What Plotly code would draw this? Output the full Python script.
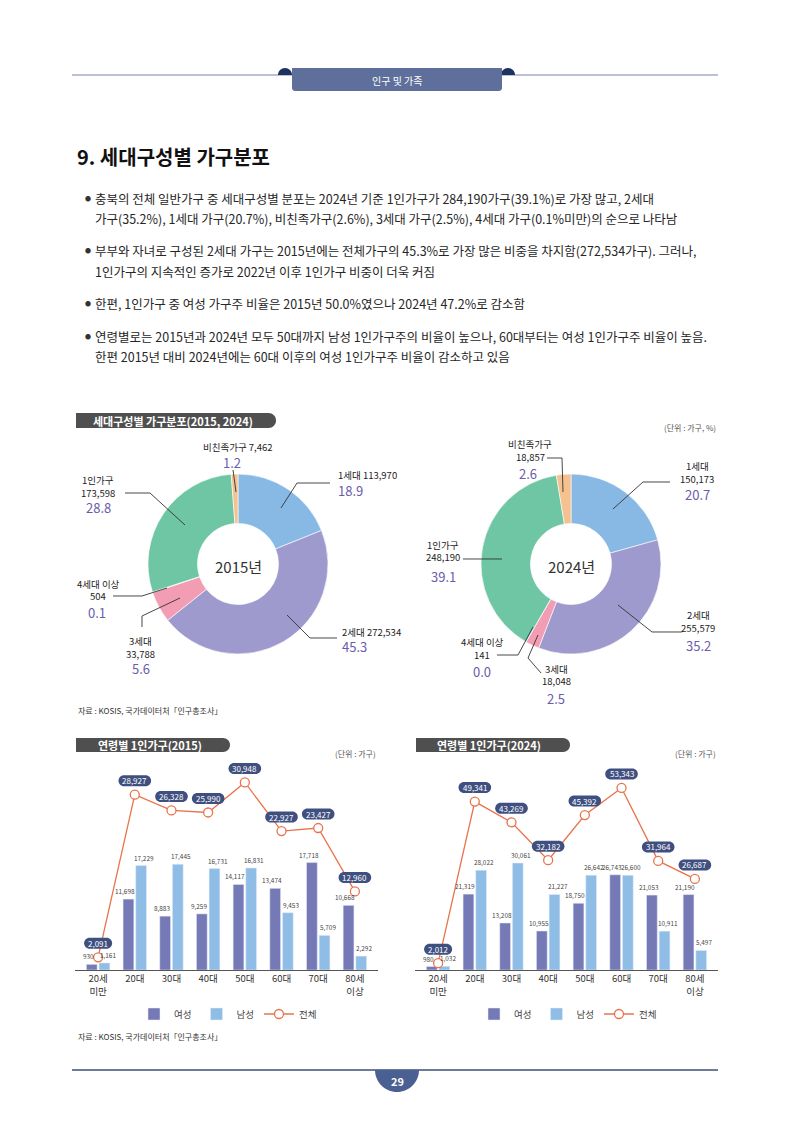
import plotly.graph_objects as go

W, H = 794, 1123
OFF = 8                      # the page body adds an 8px margin
FW, FH = W - OFF, H - OFF
FONT = "Noto Sans CJK KR"

# ---- data ----
pie_names = ["1세대", "2세대", "3세대", "4세대 이상", "1인가구", "비친족가구"]
pie_colors = ["#88b8e4", "#9f9acd", "#f29db4", "#f4c2cc", "#6fc6a4", "#f5c18f"]
counts_2015 = [113970, 272534, 33788, 504, 173598, 7462]
pcts_2015 = [18.9, 45.3, 5.6, 0.1, 28.8, 1.2]
counts_2024 = [150173, 255579, 18048, 141, 248190, 18857]
pcts_2024 = [20.7, 35.2, 2.5, 0.0, 39.1, 2.6]

ages = ["20세<br>미만", "20대", "30대", "40대", "50대", "60대", "70대", "80세<br>이상"]
female_2015 = [930, 11698, 8883, 9259, 14117, 13474, 17718, 10668]
male_2015 = [1161, 17229, 17445, 16731, 16831, 9453, 5709, 2292]
total_2015 = [2091, 28927, 26328, 25990, 30948, 22927, 23427, 12960]
female_2024 = [980, 21319, 13208, 10955, 18750, 26743, 21053, 21190]
male_2024 = [1032, 28022, 30061, 21227, 26642, 26600, 10911, 5497]
total_2024 = [2012, 49341, 43269, 32182, 45392, 53343, 31964, 26687]

bullets = [
    ["충북의 전체 일반가구 중 세대구성별 분포는 2024년 기준 1인가구가 284,190가구(39.1%)로 가장 많고, 2세대",
     "가구(35.2%), 1세대 가구(20.7%), 비친족가구(2.6%), 3세대 가구(2.5%), 4세대 가구(0.1%미만)의 순으로 나타남"],
    ["부부와 자녀로 구성된 2세대 가구는 2015년에는 전체가구의 45.3%로 가장 많은 비중을 차지함(272,534가구). 그러나,",
     "1인가구의 지속적인 증가로 2022년 이후 1인가구 비중이 더욱 커짐"],
    ["한편, 1인가구 중 여성 가구주 비율은 2015년 50.0%였으나 2024년 47.2%로 감소함"],
    ["연령별로는 2015년과 2024년 모두 50대까지 남성 1인가구주의 비율이 높으나, 60대부터는 여성 1인가구주 비율이 높음.",
     "한편 2015년 대비 2024년에는 60대 이후의 여성 1인가구주 비율이 감소하고 있음"],
]
bullet_y = [[198, 219], [250, 271], [303], [336, 357]]

FEMALE, MALE, LINE, PILL = "#7579b6", "#8fbde6", "#e9734c", "#3f5080"
PURPLE = "#6a5cab"


def X(x):
    return (x - OFF) / FW


def Y(y):
    return 1 - (y - OFF) / FH


def P(x, y):
    return f"{X(x):.5f},{Y(y):.5f}"


def round_rect(x0, y0, x1, y1, radii, conv=P):
    # radii: top-left, top-right, bottom-right, bottom-left (pixel, y down)
    tl, tr, br, bl = radii
    k = 0.5523
    return (f"M{conv(x0 + tl, y0)} L{conv(x1 - tr, y0)} "
            f"C{conv(x1 - tr + k * tr, y0)} {conv(x1, y0 + tr - k * tr)} {conv(x1, y0 + tr)} "
            f"L{conv(x1, y1 - br)} "
            f"C{conv(x1, y1 - br + k * br)} {conv(x1 - br + k * br, y1)} {conv(x1 - br, y1)} "
            f"L{conv(x0 + bl, y1)} "
            f"C{conv(x0 + bl - k * bl, y1)} {conv(x0, y1 - bl + k * bl)} {conv(x0, y1 - bl)} "
            f"L{conv(x0, y0 + tl)} "
            f"C{conv(x0, y0 + tl - k * tl)} {conv(x0 + tl - k * tl, y0)} {conv(x0 + tl, y0)} Z")


def half_circle(cx, cy, r, up=True):
    k = 0.5523
    s = -1 if up else 1
    return (f"M{P(cx - r, cy)} C{P(cx - r, cy + s * k * r)} {P(cx - k * r, cy + s * r)} {P(cx, cy + s * r)} "
            f"C{P(cx + k * r, cy + s * r)} {P(cx + r, cy + s * k * r)} {P(cx + r, cy)} Z")


shapes = []
ann = []


def text(x, y, s, size=10, color="#222", anchor="left", bold=False, family=FONT):
    ann.append(dict(x=X(x), y=Y(y), xref="paper", yref="paper", text=f"<b>{s}</b>" if bold else s,
                    showarrow=False, xanchor=anchor, yanchor="middle",
                    font=dict(family=family, size=size, color=color)))


def leader(points):
    path = "M" + " L".join(P(x, y) for x, y in points)
    shapes.append(dict(type="path", path=path, xref="paper", yref="paper",
                       line=dict(color="#333", width=0.9)))


# ---- header ----
shapes.append(dict(type="line", xref="paper", yref="paper", x0=X(72), x1=X(718), y0=Y(75), y1=Y(75),
                   line=dict(color="#a4abc3", width=1.6)))
for cx in (285, 508):
    shapes.append(dict(type="path", path=half_circle(cx, 75, 7), xref="paper", yref="paper",
                       fillcolor="#1e3262", line=dict(width=0)))
shapes.append(dict(type="path", path=round_rect(292, 68, 502, 91, (0, 0, 3, 3)), xref="paper", yref="paper",
                   fillcolor="#5f6f9b", line=dict(width=0)))
text(397, 80, "인구 및 가족", size=10, color="white", anchor="center")

text(75, 157, "9. 세대구성별 가구분포", size=20, color="#111", bold=True)

for lines, ys in zip(bullets, bullet_y):
    text(83, ys[0], "●", size=6, color="#333")
    for s, y in zip(lines, ys):
        text(93, y, s, size=12.5, color="#262626")


# ---- section pills ----
def section_pill(x0, x1, y0, y1, label, tx):
    r = (y1 - y0) / 2
    shapes.append(dict(type="path", path=round_rect(x0, y0, x1, y1, (0, r, r, 0)), xref="paper",
                       yref="paper", fillcolor="#4f4f4f", line=dict(width=0)))
    text(tx, (y0 + y1) / 2, label, size=11, color="white", anchor="center", bold=True)


section_pill(76, 276, 413, 428, "세대구성별 가구분포(2015, 2024)", 173)
text(718, 427, "(단위 : 가구, %)", size=8, color="#555", anchor="right")
section_pill(76, 230, 738, 752, "연령별 1인가구(2015)", 150)
text(378, 753, "(단위 : 가구)", size=8, color="#555", anchor="right")
section_pill(416, 570, 738, 752, "연령별 1인가구(2024)", 489)
text(718, 753, "(단위 : 가구)", size=8, color="#555", anchor="right")

text(76, 710, "자료 : KOSIS, 국가데이터처「인구총조사」", size=8, color="#333")
text(76, 1036, "자료 : KOSIS, 국가데이터처「인구총조사」", size=8, color="#333")

# ---- footer ----
shapes.append(dict(type="line", xref="paper", yref="paper", x0=X(72), x1=X(718), y0=Y(1070), y1=Y(1070),
                   line=dict(color="#3f4f78", width=1.3)))
shapes.append(dict(type="path", path=half_circle(397, 1070, 22, up=False), xref="paper", yref="paper",
                   fillcolor="#4a5f92", line=dict(width=0)))
text(397, 1081, "29", size=11, color="white", anchor="center", bold=True)

fig = go.Figure()

# ---- donuts ----
for counts, pcts, cx, cy, year in [(counts_2015, pcts_2015, 238, 564, "2015년"),
                                   (counts_2024, pcts_2024, 571, 564, "2024년")]:
    r = 90
    fig.add_trace(go.Pie(values=pcts, labels=pie_names, hole=0.45, sort=False, direction="clockwise",
                         rotation=0, textinfo="none", hoverinfo="skip", showlegend=False,
                         marker=dict(colors=pie_colors, line=dict(color="white", width=0.6)),
                         domain=dict(x=[X(cx - r), X(cx + r)], y=[Y(cy + r), Y(cy - r)])))
    text(cx, cy + 2, year, size=15, color="#333", anchor="center")

# label layout: name position, one-line flag, anchor, percent position, leader points
lab_2015 = [
    (336, 475, True, "left", 336, 491, [(281, 508), (297, 483), (330, 483)]),
    (340, 632, True, "left", 340, 646, [(287, 615), (310, 638), (337, 638)]),
    (140, 641, False, "center", 141, 668, [(142, 627), (142, 616), (180, 598)]),
    (98, 584, False, "center", 97, 612, [(113, 596), (142, 596), (167, 588)]),
    (98, 480, False, "center", 98, 507, [(125, 493), (150, 493), (185, 525)]),
    (238, 447, True, "center", 232, 462, [(233, 470), (236, 492)]),
]
lab_2024 = [
    (697, 466, False, "center", 697, 494, [(613, 509), (643, 482), (670, 482)]),
    (698, 615, False, "center", 698, 645, [(618, 605), (652, 632), (682, 632)]),
    (556, 669, False, "center", 556, 698, [(541, 673), (528, 658), (538, 635)]),
    (482, 642, False, "center", 482, 671, [(497, 655), (518, 655), (533, 627)]),
    (443, 545, False, "center", 443, 576, [(463, 559), (502, 559)]),
    (530, 444, False, "center", 528, 473, [(547, 458), (562, 458), (563, 492)]),
]
for counts, pcts, labs in [(counts_2015, pcts_2015, lab_2015), (counts_2024, pcts_2024, lab_2024)]:
    for name, c, p, (lx, ly, one, anc, qx, qy, pts) in zip(pie_names, counts, pcts, labs):
        if one:
            text(lx, ly, f"{name} {c:,}", size=9.5, anchor=anc)
        else:
            text(lx, ly, name, size=9.5, anchor=anc)
            text(lx, ly + 12.5, f"{c:,}", size=9.5, anchor=anc)
        text(qx, qy, f"{p:.1f}", size=13, color=PURPLE, anchor=anc)
        leader(pts)

# ---- age bars ----
xs = list(range(len(ages)))
TOP = 740                     # top of the bar plot area (pixels)
span = 970 - TOP
charts = [
    ("x", "y", "y3", female_2015, male_2015, total_2015, "legend", 165 * span, 165 * span),
    ("x2", "y2", "y4", female_2024, male_2024, total_2024, "legend2", 281 * span, 293 * span),
]
for xa, ya, yl, fem, mal, tot, lg, brange, lrange in charts:
    for vals, name, color, shift in [(fem, "여성", FEMALE, -9.5), (mal, "남성", MALE, 9.5)]:
        fig.add_trace(go.Bar(x=xs, y=vals, name=name, marker_color=color, xaxis=xa, yaxis=ya,
                             hoverinfo="skip", legend=lg))
        for i, v in zip(xs, vals):
            ann.append(dict(x=i, y=v, xref=xa, yref=ya, text=f"{v:,}", showarrow=False,
                            xshift=shift, yshift=1, xanchor="center", yanchor="bottom",
                            font=dict(family=FONT, size=6.4, color="#444")))
    fig.add_trace(go.Scatter(x=xs, y=tot, name="전체", mode="lines+markers", xaxis=xa, yaxis=yl,
                             line=dict(color=LINE, width=1.3), cliponaxis=False,
                             marker=dict(symbol="circle", size=9, color="white", line=dict(color=LINE, width=1.3)),
                             hoverinfo="skip", legend=lg))
    for i, v in zip(xs, tot):
        s = f"{v:,}"
        w = 4.6 * len(s) + 5
        h = 11
        conv = lambda px_, py_: f"{px_:.2f},{-py_:.2f}"
        shapes.append(dict(type="path", xref=xa, yref=yl, xsizemode="pixel", ysizemode="pixel",
                           xanchor=i, yanchor=v,
                           path=round_rect(-w / 2, -14 - h / 2, w / 2, -14 + h / 2, (h / 2,) * 4, conv),
                           fillcolor=PILL, line=dict(width=0)))
        ann.append(dict(x=i, y=v, xref=xa, yref=yl, text=s, showarrow=False, yshift=14,
                        xanchor="center", yanchor="middle", font=dict(family=FONT, size=8, color="white")))

axis_x = dict(range=[-0.63, 7.63], tickvals=xs, ticktext=ages, showline=True, linecolor="#555", linewidth=1,
              ticks="", showgrid=False, zeroline=False, tickfont=dict(family=FONT, size=9.5, color="#333"))
hidden = dict(showticklabels=False, showgrid=False, zeroline=False, showline=False)
ydom = [Y(970), Y(TOP)]

legend_common = dict(orientation="h", xanchor="center", yanchor="middle", bgcolor="rgba(0,0,0,0)",
                     font=dict(family=FONT, size=9.5, color="#444"), itemwidth=30)

fig.update_layout(
    width=FW, height=FH, margin=dict(l=0, r=0, t=0, b=0),
    paper_bgcolor="white", plot_bgcolor="rgba(0,0,0,0)",
    barmode="group", bargap=0.31, bargroupgap=0.15,
    xaxis=dict(domain=[X(75), X(378)], anchor="y", **axis_x),
    xaxis2=dict(domain=[X(415), X(718)], anchor="y2", **axis_x),
    yaxis=dict(domain=ydom, range=[0, charts[0][7]], anchor="x", **hidden),
    yaxis2=dict(domain=ydom, range=[0, charts[1][7]], anchor="x2", **hidden),
    yaxis3=dict(range=[0, charts[0][8]], overlaying="y", anchor="x", **hidden),
    yaxis4=dict(range=[0, charts[1][8]], overlaying="y2", anchor="x2", **hidden),
    legend=dict(x=X(228), y=Y(1014), **legend_common),
    legend2=dict(x=X(568), y=Y(1014), **legend_common),
    shapes=shapes, annotations=ann,
    font=dict(family=FONT),
)

fig.write_html("out.html")
